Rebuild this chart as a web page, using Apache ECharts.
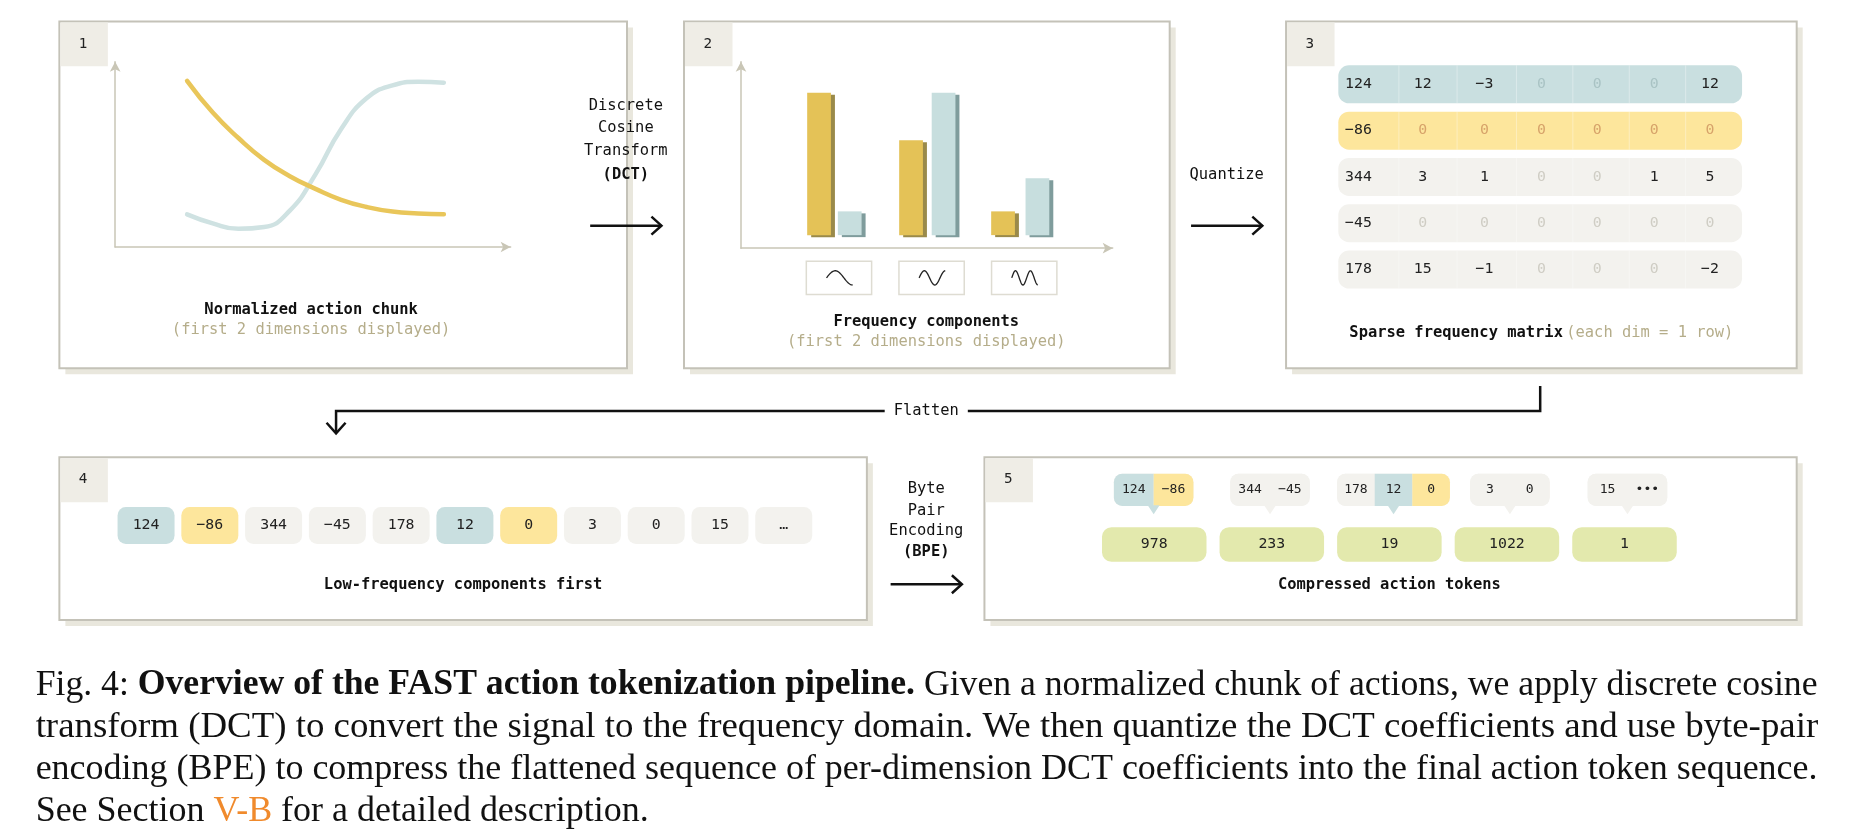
<!DOCTYPE html>
<html>
<head>
<meta charset="utf-8">
<script src="https://cdn.jsdelivr.net/npm/echarts@6/dist/echarts.min.js"></script>
<style>html,body{margin:0;padding:0;background:#fff}#main{width:1862px;height:836px}#m{position:absolute;left:-9999px;top:0;white-space:pre}</style>
</head>
<body>
<div id="main"></div>
<span id="m"></span>
<script>
// data
var chunkX = [0, 1, 2, 3, 4, 5, 6, 7, 8, 9, 10];
var dim1 = [0.915, 0.74, 0.6, 0.48, 0.39, 0.32, 0.26, 0.22, 0.195, 0.185, 0.18];
var dim2 = [0.18, 0.13, 0.1, 0.11, 0.2, 0.4, 0.65, 0.82, 0.89, 0.91, 0.905];
var freqDim1 = [120, 80, 20];
var freqDim2 = [20, 120, 48];
var matrix = [
  [124, 12, -3, 0, 0, 0, 12],
  [-86, 0, 0, 0, 0, 0, 0],
  [344, 3, 1, 0, 0, 1, 5],
  [-45, 0, 0, 0, 0, 0, 0],
  [178, 15, -1, 0, 0, 0, -2]
];
var flat = ["124", "-86", "344", "-45", "178", "12", "0", "3", "0", "15", "\u2026"];
var flatKind = ["b", "y", "g", "g", "g", "b", "y", "g", "g", "g", "g"];
var groups = [["124", "-86"], ["344", "-45"], ["178", "12", "0"], ["3", "0"], ["15", "\u2022\u2022\u2022"]];
var groupKind = [["b", "y"], ["g", "g"], ["g", "b", "y"], ["g", "g"], ["g", "g"]];
var tokens = ["978", "233", "19", "1022", "1"];

var S = 1862 / 1568;
function P(v) { return v * S; }
var MONO = "DejaVu Sans Mono";
var BLUE = "#c9dfe0", YEL = "#fde69c", GREY = "#f3f2ee", TOK = "#e3e9ad";
var AX = "#c9c6b6";
var g = [];

function panel(x1, y1, x2, y2, num) {
  g.push({ type: "rect", shape: { x: P(x1) + 6, y: P(y1) + 6, width: P(x2 - x1), height: P(y2 - y1) }, style: { fill: "#e9e7dd" } });
  g.push({ type: "rect", shape: { x: P(x1), y: P(y1), width: P(x2 - x1), height: P(y2 - y1) }, style: { fill: "#fff", stroke: "#c4c2b8", lineWidth: 2 } });
  g.push({ type: "rect", shape: { x: P(x1) + 1, y: P(y1) + 1, width: P(40), height: P(37) }, style: { fill: "#efede6" } });
  g.push({ type: "text", x: P(x1 + 20), y: P(y1 + 19), style: { text: num, font: P(12) + "px " + MONO, fill: "#222", align: "center", verticalAlign: "middle" } });
}
function txt(x, y, t, size, color, bold, align) {
  g.push({ type: "text", x: P(x), y: P(y), z: 10, style: { text: t, font: (bold ? "bold " : "") + P(size) + "px " + MONO, fill: color, align: align || "center", verticalAlign: "middle" } });
}
function chip(x, y, w, h, fill, t, r, color) {
  g.push({ type: "rect", z: 5, shape: { x: P(x), y: P(y), width: P(w), height: P(h), r: r }, style: { fill: fill } });
  if (t !== null) txt(x + w / 2, y + h / 2, t, 12.5, color || "#222");
}
function arrowR(x1, x2, y) {
  g.push({ type: "line", shape: { x1: P(x1), y1: P(y), x2: P(x2), y2: P(y) }, style: { stroke: "#111", lineWidth: 2.5 } });
  g.push({ type: "polyline", shape: { points: [[P(x2) - 10, P(y) - 9], [P(x2), P(y)], [P(x2) - 10, P(y) + 9]] }, style: { stroke: "#111", lineWidth: 2.5, fill: null } });
}

panel(50, 18, 528, 310, "1");
panel(576, 18, 985, 310, "2");
panel(1083, 18, 1513, 310, "3");
panel(50, 385, 730, 522, "4");
panel(829, 385, 1513, 522, "5");

txt(262, 261, "Normalized action chunk", 13, "#111", true);
txt(262, 278, "(first 2 dimensions displayed)", 13, "#b5ad8a");
txt(780, 271, "Frequency components", 13, "#111", true);
txt(780, 288, "(first 2 dimensions displayed)", 13, "#b5ad8a");
g.push({ type: "text", x: P(1298), y: P(280), style: { rich: { b: { font: "bold " + P(13) + "px " + MONO, fill: "#111" }, l: { font: P(13) + "px " + MONO, fill: "#b5ad8a" } }, text: "{b|Sparse frequency matrix} {l|(each dim = 1 row)}", align: "center", verticalAlign: "middle" } });
txt(390, 493, "Low-frequency components first", 13, "#111", true);
txt(1170, 493, "Compressed action tokens", 13, "#111", true);

// arrows between panels
txt(527, 89, "Discrete", 13, "#111");
txt(527, 108, "Cosine", 13, "#111");
txt(527, 127, "Transform", 13, "#111");
txt(527, 147, "(DCT)", 13, "#111", true);
arrowR(497, 557, 190);
txt(1033, 147, "Quantize", 13, "#111");
arrowR(1003, 1063, 190);
txt(780, 412, "Byte", 13, "#111");
txt(780, 430, "Pair", 13, "#111");
txt(780, 447, "Encoding", 13, "#111");
txt(780, 465, "(BPE)", 13, "#111", true);
arrowR(750, 810, 492);

// Flatten
g.push({ type: "polyline", shape: { points: [[P(1297), P(325)], [P(1297), P(346)], [P(815), P(346)]] }, style: { stroke: "#111", lineWidth: 2.5, fill: null } });
g.push({ type: "polyline", shape: { points: [[P(745), P(346)], [P(283), P(346)], [P(283), P(364)]] }, style: { stroke: "#111", lineWidth: 2.5, fill: null } });
g.push({ type: "polyline", shape: { points: [[P(275), P(356)], [P(283), P(365)], [P(291), P(356)]] }, style: { stroke: "#111", lineWidth: 2.5, fill: null } });
txt(780, 346, "Flatten", 13, "#111");

// frequency icons
[1, 2, 3].forEach(function (k, i) {
  var x0 = 679 + i * 78;
  g.push({ type: "rect", shape: { x: P(x0), y: P(220), width: P(55), height: P(28) }, style: { fill: "#fff", stroke: "#dedcd2", lineWidth: 1.5 } });
  var pts = [];
  for (var t = 0; t <= 40; t++) pts.push([P(x0 + 17 + t * 0.55), P(234 - 6 * Math.sin(t / 40 * Math.PI * (k + 0.5)))]);
  g.push({ type: "polyline", shape: { points: pts }, style: { stroke: "#222", lineWidth: 1.3, fill: null } });
});

// matrix
var rowFill = [BLUE, YEL, GREY, GREY, GREY];
var zeroCol = ["#a9c3c4", "#d7a36a", "#cfcdc4", "#cfcdc4", "#cfcdc4"];
var colX = [1144, 1198, 1250, 1298, 1345, 1393, 1440];
matrix.forEach(function (row, r) {
  var yc = 71 + r * 39;
  chip(1127, yc - 16, 340, 32, rowFill[r], null, P(9));
  for (var c = 1; c < 7; c++) {
    var xd = (colX[c - 1] + colX[c]) / 2 + (c === 1 ? 4 : 0);
    g.push({ type: "line", z: 6, shape: { x1: P(xd + 3), y1: P(yc - 16), x2: P(xd + 3), y2: P(yc + 16) }, style: { stroke: "rgba(255,255,255,0.35)", lineWidth: 1 } });
  }
  row.forEach(function (v, c) {
    var t = v < 0 ? "\u2212" + (-v) : String(v);
    txt(colX[c], yc, t, 12.5, v === 0 && c > 0 ? zeroCol[r] : "#222");
  });
});

// flattened
var kindFill = { b: BLUE, y: YEL, g: GREY };
flat.forEach(function (t, i) {
  chip(99 + i * 53.7, 427, 48, 31, kindFill[flatKind[i]], t.replace("-", "\u2212"), P(7));
});

// groups + tokens
var gx = [938, 1036, 1126, 1238, 1337];
groups.forEach(function (grp, i) {
  var w = grp.length === 3 ? 95 : 67;
  var cw = w / grp.length;
  var x0 = gx[i];
  chip(x0, 399, w, 27, GREY, null, P(7));
  grp.forEach(function (t, j) {
    var f = kindFill[groupKind[i][j]];
    g.push({ type: "rect", z: 6, shape: { x: P(x0 + j * cw), y: P(399), width: P(cw), height: P(27), r: [j === 0 ? P(7) : 0, j === grp.length - 1 ? P(7) : 0, j === grp.length - 1 ? P(7) : 0, j === 0 ? P(7) : 0] }, style: { fill: f } });
    g.push({ type: "text", x: P(x0 + j * cw + cw / 2), y: P(412.5), z: 10, style: { text: t.replace("-", "\u2212"), font: P(11) + "px " + MONO, fill: "#222", align: "center", verticalAlign: "middle" } });
  });
  var tipFill = kindFill[groupKind[i][grp.length === 3 ? 1 : 0]];
  var tx = x0 + w / 2;
  g.push({ type: "polygon", z: 6, shape: { points: [[P(tx - 5), P(425.5)], [P(tx + 5), P(425.5)], [P(tx), P(433)]] }, style: { fill: tipFill } });
  chip(928 + i * 99, 444, 88, 29, TOK, tokens[i], P(8));
});

// caption: one text per line, squeezed horizontally to the column width
var meas = document.getElementById("m");
var capSize = P(30).toFixed(2);
var capFont = capSize + "px 'Liberation Serif'";
var capBold = "bold " + capFont;
function width(parts) {
  var tot = 0;
  parts.forEach(function (p) { meas.style.font = p[1] === 1 ? capBold : capFont; meas.textContent = p[0]; tot += meas.getBoundingClientRect().width; });
  return tot;
}
var capLines = [
  [["Fig. 4: ", 0], ["Overview of the FAST action tokenization pipeline.", 1], [" Given a normalized chunk of actions, we apply discrete cosine", 0]],
  [["transform (DCT) to convert the signal to the frequency domain. We then quantize the DCT coefficients and use byte-pair", 0]],
  [["encoding (BPE) to compress the flattened sequence of per-dimension DCT coefficients into the final action token sequence.", 0]],
  [["See Section ", 0], ["V-B", 2], [" for a detailed description.", 0]]
];
var L = P(30), R = P(1530), lastScale = 0.8;
capLines.forEach(function (parts, li) {
  var sc = li < 3 ? (R - L) / width(parts) : lastScale;
  lastScale = sc;
  var s = parts.map(function (p) { return "{" + ["n", "b", "o"][p[1]] + "|" + p[0] + "}"; }).join("");
  g.push({ type: "text", x: L, y: P(577 + li * 35.5), scaleX: sc, style: { text: s, verticalAlign: "middle",
    rich: { n: { font: capFont, fill: "#111" }, b: { font: capBold, fill: "#111" }, o: { font: capFont, fill: "#f08a2c" } } } });
});

var chart = echarts.init(document.getElementById("main"));
var lineAxis = { show: true, onZero: false, symbol: ["none", "arrow"], symbolSize: [8, 10], lineStyle: { color: AX, width: 1.5 } };
chart.setOption({
  animation: false,
  grid: [
    { left: P(97), top: P(52), width: P(333), height: P(156) },
    { left: P(624), top: P(52), width: P(313), height: P(157) }
  ],
  xAxis: [
    { gridIndex: 0, type: "value", min: -2.8, max: 12.6, axisLine: lineAxis, axisTick: { show: false }, axisLabel: { show: false }, splitLine: { show: false } },
    { gridIndex: 1, type: "value", min: 0, max: 4, axisLine: lineAxis, axisTick: { show: false }, axisLabel: { show: false }, splitLine: { show: false } }
  ],
  yAxis: [
    { gridIndex: 0, type: "value", min: 0, max: 1.02, axisLine: lineAxis, axisTick: { show: false }, axisLabel: { show: false }, splitLine: { show: false } },
    { gridIndex: 1, type: "value", min: -11, max: 146, axisLine: lineAxis, axisTick: { show: false }, axisLabel: { show: false }, splitLine: { show: false } }
  ],
  series: [
    { type: "line", xAxisIndex: 0, yAxisIndex: 0, smooth: 0.5, showSymbol: false, lineStyle: { color: "#cfe2e2", width: 4.5, cap: "round" }, data: chunkX.map(function (x, i) { return [x, dim2[i]]; }) },
    { type: "line", xAxisIndex: 0, yAxisIndex: 0, smooth: 0.5, showSymbol: false, lineStyle: { color: "#e9c65a", width: 4.5, cap: "round" }, data: chunkX.map(function (x, i) { return [x, dim1[i]]; }) },
    { type: "bar", xAxisIndex: 1, yAxisIndex: 1, barWidth: P(20), barGap: "-100%", itemStyle: { color: "#e4c257", shadowColor: "#9a8a4a", shadowOffsetX: 4, shadowOffsetY: 2 }, data: freqDim1.map(function (v, i) { return [0.84 + i * 0.99, v]; }) },
    { type: "bar", xAxisIndex: 1, yAxisIndex: 1, barWidth: P(20), barGap: "-100%", itemStyle: { color: "#c7dede", shadowColor: "#7f9c9c", shadowOffsetX: 4, shadowOffsetY: 2 }, data: freqDim2.map(function (v, i) { return [1.17 + i * 1.01, v]; }) }
  ],
  graphic: g
});
</script>
</body>
</html>
